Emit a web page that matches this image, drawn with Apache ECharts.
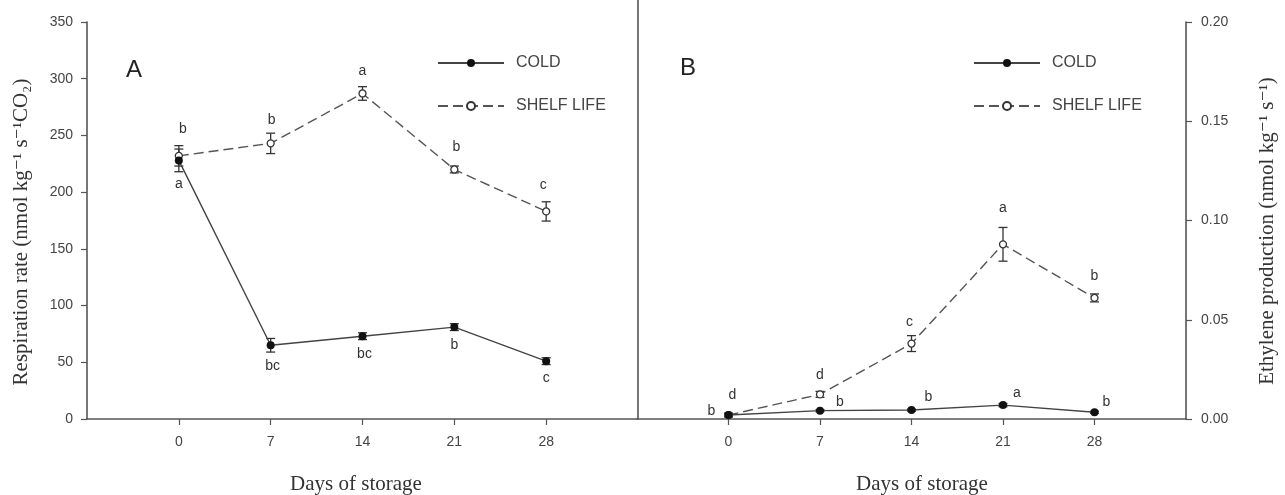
<!DOCTYPE html>
<html>
<head>
<meta charset="utf-8">
<script src="https://cdn.jsdelivr.net/npm/echarts@6/dist/echarts.min.js"></script>
<style>
  html, body { margin: 0; padding: 0; background: #ffffff; }
  #chart { width: 1285px; height: 495px; }
</style>
</head>
<body>
<div id="chart"></div>
<script>
// Storage days (x categories shared by both panels)
const days = [0, 7, 14, 21, 28];

// Panel A: respiration rate (nmol kg-1 s-1 CO2), mean and error
const respCold = [228, 65, 73, 81, 51];
const respColdErr = [10, 6, 3, 3, 3];
const respShelf = [232, 243, 287, 220, 183];
const respShelfErr = [9, 9, 6, 3, 8.5];
const respColdLetters = ['a', 'bc', 'bc', 'b', 'c'];
const respShelfLetters = ['b', 'b', 'a', 'b', 'c'];

// Panel B: ethylene production (nmol kg-1 s-1), mean and error
const ethCold = [0.002, 0.0042, 0.0045, 0.007, 0.0034];
const ethColdErr = [0.0005, 0.0005, 0.0005, 0.0008, 0.0005];
const ethShelf = [0.002, 0.0124, 0.038, 0.088, 0.061];
const ethShelfErr = [0.001, 0.0015, 0.004, 0.0085, 0.002];
const ethColdLetters = ['b', 'b', 'b', 'a', 'b'];
const ethShelfLetters = ['d', 'd', 'c', 'a', 'b'];

// Axis tick values
const respTicks = [0, 50, 100, 150, 200, 250, 300, 350];
const ethTicks = [0, 0.05, 0.10, 0.15, 0.20];

// Letter placement relative to each point, in pixels
const respColdOffset = [[0, 24], [2, 21], [2, 18], [0, 18], [0, 17]];
const respShelfOffset = [[4, -27], [1, -23], [0, -22], [2, -22], [-3, -26]];
const ethColdOffset = [[-17, -4], [20, -9], [17, -13], [14, -12], [12, -10]];
const ethShelfOffset = [[4, -20], [0, -19], [-2, -21], [0, -36], [0, -22]];

const sans = '"Liberation Sans", Arial, sans-serif';
const serif = '"Liberation Serif", "DejaVu Serif", serif';
const axisColor = '#555';
const textColor = '#444';

function pointData(values, letters, offsets) {
  return days.map((d, i) => ({
    value: [d, values[i]],
    label: { show: true, formatter: letters[i], position: 'inside', offset: offsets[i] }
  }));
}

function errorData(values, errs) {
  return days.map((d, i) => [d, values[i], errs[i]]);
}

function renderErrorBar(params, api) {
  const x = api.value(0), y = api.value(1), e = api.value(2);
  const hi = api.coord([x, y + e]);
  const lo = api.coord([x, y - e]);
  const half = 4.5;
  const st = { stroke: '#333', lineWidth: 1.3 };
  return {
    type: 'group',
    children: [
      { type: 'line', shape: { x1: hi[0], y1: hi[1], x2: lo[0], y2: lo[1] }, style: st },
      { type: 'line', shape: { x1: hi[0] - half, y1: hi[1], x2: hi[0] + half, y2: hi[1] }, style: st },
      { type: 'line', shape: { x1: lo[0] - half, y1: lo[1], x2: lo[0] + half, y2: lo[1] }, style: st }
    ]
  };
}

const letterStyle = { color: '#333', fontSize: 14, fontFamily: sans };

function coldSeries(axis, values, letters, offsets) {
  return {
    type: 'line', name: 'COLD', xAxisIndex: axis, yAxisIndex: axis,
    data: pointData(values, letters, offsets),
    symbol: 'circle', symbolSize: 8,
    itemStyle: { color: '#111' },
    lineStyle: { color: '#444', width: 1.4 },
    label: letterStyle,
    z: 4, animation: false
  };
}

function shelfSeries(axis, values, letters, offsets) {
  return {
    type: 'line', name: 'SHELF LIFE', xAxisIndex: axis, yAxisIndex: axis,
    data: pointData(values, letters, offsets),
    symbol: 'circle', symbolSize: 7,
    itemStyle: { color: '#fff', borderColor: '#333', borderWidth: 1.3 },
    lineStyle: { color: '#555', width: 1.4, type: [10, 5] },
    label: letterStyle,
    z: 3, animation: false
  };
}

function errorSeries(axis, values, errs) {
  return {
    type: 'custom', xAxisIndex: axis, yAxisIndex: axis,
    data: errorData(values, errs),
    encode: { x: 0, y: 1 },
    renderItem: renderErrorBar,
    silent: true, z: 2, animation: false
  };
}

function dayAxis(grid) {
  return {
    type: 'value', gridIndex: grid, min: -7, max: 35, interval: 7,
    axisLine: { show: true, onZero: false, lineStyle: { color: axisColor, width: 1.6 } },
    axisTick: { show: true, length: 6, customValues: days, lineStyle: { color: axisColor, width: 1.2 } },
    axisLabel: { customValues: days, margin: 16, color: textColor, fontSize: 14, fontFamily: sans },
    splitLine: { show: false }
  };
}

const legendBase = {
  data: ['COLD', 'SHELF LIFE'],
  orient: 'vertical',
  top: 50,
  itemWidth: 66,
  itemHeight: 10,
  itemGap: 27,
  selectedMode: false,
  textStyle: { fontSize: 16, color: textColor, fontFamily: sans, padding: [0, 0, 0, 7] }
};

const option = {
  backgroundColor: '#ffffff',
  animation: false,
  grid: [
    { left: 87, top: 22, width: 551, height: 397 },
    { left: 637, top: 22, width: 549, height: 397 }
  ],
  xAxis: [dayAxis(0), dayAxis(1)],
  yAxis: [
    {
      type: 'value', gridIndex: 0, min: respTicks[0], max: respTicks[respTicks.length - 1], interval: 50,
      axisLine: { show: true, onZero: false, lineStyle: { color: axisColor, width: 1.6 } },
      axisTick: { show: true, length: 6, lineStyle: { color: axisColor, width: 1.2 } },
      axisLabel: { margin: 14, color: textColor, fontSize: 14, fontFamily: sans },
      splitLine: { show: false }
    },
    {
      type: 'value', gridIndex: 1, position: 'right', min: ethTicks[0], max: ethTicks[ethTicks.length - 1], interval: 0.05,
      axisLine: { show: true, onZero: false, lineStyle: { color: axisColor, width: 1.6 } },
      axisTick: { show: true, length: 6, lineStyle: { color: axisColor, width: 1.2 } },
      axisLabel: { margin: 15, color: textColor, fontSize: 14, fontFamily: sans, formatter: v => v.toFixed(2) },
      splitLine: { show: false }
    }
  ],
  legend: [
    Object.assign({}, legendBase, { left: 432 }),
    Object.assign({}, legendBase, { left: 968 })
  ],
  graphic: [
    { type: 'line', shape: { x1: 638, y1: 0, x2: 638, y2: 419 }, style: { stroke: axisColor, lineWidth: 1.6 } },
    { type: 'text', x: 134, y: 70, style: { text: 'A', fontSize: 24, fontFamily: sans, fill: '#222', align: 'center', verticalAlign: 'middle' } },
    { type: 'text', x: 688, y: 68, style: { text: 'B', fontSize: 24, fontFamily: sans, fill: '#222', align: 'center', verticalAlign: 'middle' } },
    { type: 'text', x: 356, y: 484, style: { text: 'Days of storage', fontSize: 21, fontFamily: serif, fill: '#333', align: 'center', verticalAlign: 'middle' } },
    { type: 'text', x: 922, y: 484, style: { text: 'Days of storage', fontSize: 21, fontFamily: serif, fill: '#333', align: 'center', verticalAlign: 'middle' } },
    { type: 'text', x: 21, y: 232, rotation: Math.PI / 2, style: { text: 'Respiration rate (nmol kg\u207B\u00B9 s\u207B\u00B9CO\u2082)', fontSize: 21, fontFamily: serif, fill: '#333', align: 'center', verticalAlign: 'middle' } },
    { type: 'text', x: 1267, y: 231, rotation: Math.PI / 2, style: { text: 'Ethylene production (nmol kg\u207B\u00B9 s\u207B\u00B9)', fontSize: 21, fontFamily: serif, fill: '#333', align: 'center', verticalAlign: 'middle' } }
  ],
  series: [
    errorSeries(0, respCold, respColdErr),
    errorSeries(0, respShelf, respShelfErr),
    coldSeries(0, respCold, respColdLetters, respColdOffset),
    shelfSeries(0, respShelf, respShelfLetters, respShelfOffset),
    errorSeries(1, ethCold, ethColdErr),
    errorSeries(1, ethShelf, ethShelfErr),
    coldSeries(1, ethCold, ethColdLetters, ethColdOffset),
    shelfSeries(1, ethShelf, ethShelfLetters, ethShelfOffset)
  ]
};

const chart = echarts.init(document.getElementById('chart'), null, { renderer: 'canvas' });
chart.setOption(option);
</script>
</body>
</html>
